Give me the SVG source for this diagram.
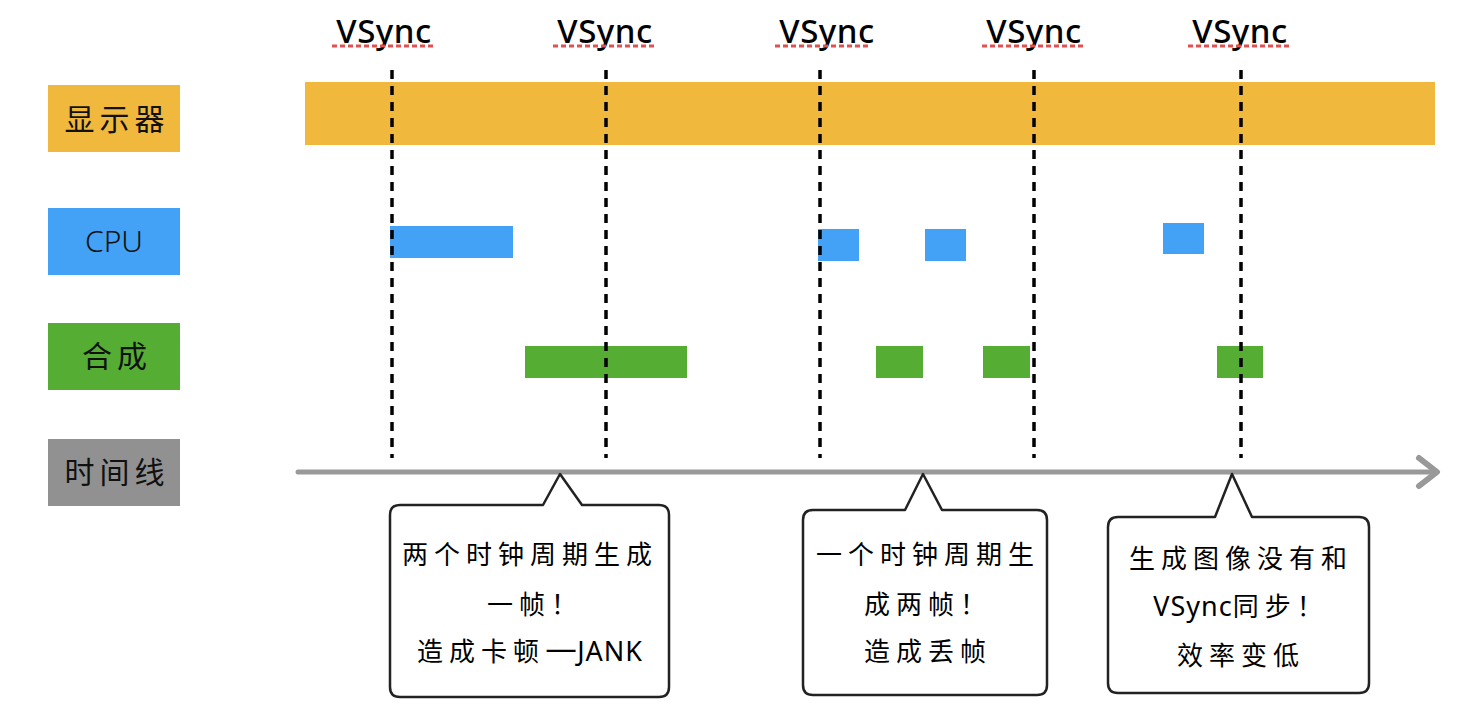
<svg xmlns="http://www.w3.org/2000/svg" width="1478" height="710" viewBox="0 0 1478 710">
<style>
.lbl{font-family:"Noto Sans CJK SC","Noto Sans",sans-serif;font-size:30px;fill:#111;text-anchor:middle;letter-spacing:5px}
.vs{font-family:"Noto Sans","Noto Sans CJK SC",sans-serif;font-size:33px;font-weight:500;fill:#000;text-anchor:middle;letter-spacing:0.5px}
.ul{stroke:#e05050;stroke-width:3;stroke-dasharray:5 3}
.vline{stroke:#000;stroke-width:3.5;stroke-dasharray:9 7}
.cpu{fill:#43a1f6}
.cmp{fill:#55ad33}
.box{fill:#fff;stroke:#222;stroke-width:2.5;stroke-linejoin:round}
.ct{font-family:"Noto Sans CJK SC","Noto Sans",sans-serif;font-size:26px;fill:#000;text-anchor:middle;letter-spacing:6px}
.lat{font-family:"Noto Sans","Noto Sans CJK SC",sans-serif;letter-spacing:1px;font-size:27px}
</style>
<rect width="1478" height="710" fill="#fff"/>
<g id="vsync-labels">
<text class="vs" x="384" y="43">VSync</text><line class="ul" x1="332" y1="46" x2="433" y2="46"/>
<text class="vs" x="605" y="43">VSync</text><line class="ul" x1="553" y1="46" x2="655" y2="46"/>
<text class="vs" x="827" y="43">VSync</text><line class="ul" x1="775" y1="46" x2="869" y2="46"/>
<text class="vs" x="1034" y="43">VSync</text><line class="ul" x1="982" y1="46" x2="1085" y2="46"/>
<text class="vs" x="1240" y="43">VSync</text><line class="ul" x1="1188" y1="46" x2="1290" y2="46"/>
</g>
<g id="display-bar"><rect x="305" y="82" width="1130" height="63" fill="#f0b93d"/></g>
<g id="row-labels">
<g id="label-display"><rect x="48" y="85" width="132" height="67" fill="#f0b93d"/><text class="lbl" x="117" y="130">显示器</text></g>
<g id="label-cpu"><rect x="48" y="208" width="132" height="67" fill="#43a1f6"/><text class="lbl" x="114" y="252" style="font-family:'Noto Sans',sans-serif;font-weight:300;letter-spacing:0">CPU</text></g>
<g id="label-compose"><rect x="48" y="323" width="132" height="67" fill="#55ad33"/><text class="lbl" x="117" y="367">合成</text></g>
<g id="label-timeline"><rect x="48" y="439" width="132" height="67" fill="#919191"/><text class="lbl" x="117" y="483">时间线</text></g>
</g>
<g id="cpu-bars">
<rect class="cpu" x="390" y="226" width="123" height="32"/>
<rect class="cpu" x="818" y="229" width="41" height="32"/>
<rect class="cpu" x="925" y="229" width="41" height="32"/>
<rect class="cpu" x="1163" y="223" width="41" height="31"/>
</g>
<g id="compose-bars">
<rect class="cmp" x="525" y="346" width="162" height="32"/>
<rect class="cmp" x="876" y="346" width="47" height="32"/>
<rect class="cmp" x="983" y="346" width="47" height="32"/>
<rect class="cmp" x="1217" y="346" width="46" height="32"/>
</g>
<g id="connectors">
<line class="vline" x1="392" y1="70" x2="392" y2="458"/>
<line class="vline" x1="606" y1="70" x2="606" y2="458"/>
<line class="vline" x1="820" y1="70" x2="820" y2="458"/>
<line class="vline" x1="1034" y1="70" x2="1034" y2="458"/>
<line class="vline" x1="1241" y1="70" x2="1241" y2="458"/>
<line x1="298" y1="472" x2="1436" y2="472" stroke="#999" stroke-width="5" stroke-linecap="round"/>
<polyline points="1419,458 1437,472 1419,486" fill="none" stroke="#999" stroke-width="6" stroke-linecap="round" stroke-linejoin="round"/>
</g>
<g id="callout-jank">
<path class="box" d="M400,505 H543 L560,474 L582,505 H659 Q669,505 669,515 V687 Q669,697 659,697 H400 Q390,697 390,687 V515 Q390,505 400,505 Z"/>
<text class="ct" x="530" y="564">两个时钟周期生成</text>
<text class="ct" x="535" y="614">一帧！</text>
<text class="ct" x="530" y="661">造成卡顿<tspan style="letter-spacing:0;font-size:36px">—</tspan><tspan class="lat">JANK</tspan></text>
</g>
<g id="callout-drop">
<path class="box" d="M813,510 H905 L923,474 L942,510 H1037 Q1047,510 1047,520 V685 Q1047,695 1037,695 H813 Q803,695 803,685 V520 Q803,510 813,510 Z"/>
<text class="ct" x="928" y="564">一个时钟周期生</text>
<text class="ct" x="928" y="614">成两帧！</text>
<text class="ct" x="928" y="661">造成丢帧</text>
</g>
<g id="callout-sync">
<path class="box" d="M1118,517 H1215 L1232,474 L1252,517 H1359 Q1369,517 1369,527 V683 Q1369,693 1359,693 H1118 Q1108,693 1108,683 V527 Q1108,517 1118,517 Z"/>
<text class="ct" x="1241" y="568">生成图像没有和</text>
<text class="ct" x="1241" y="616"><tspan class="lat">VSync</tspan>同步！</text>
<text class="ct" x="1241" y="665">效率变低</text>
</g>
</svg>
